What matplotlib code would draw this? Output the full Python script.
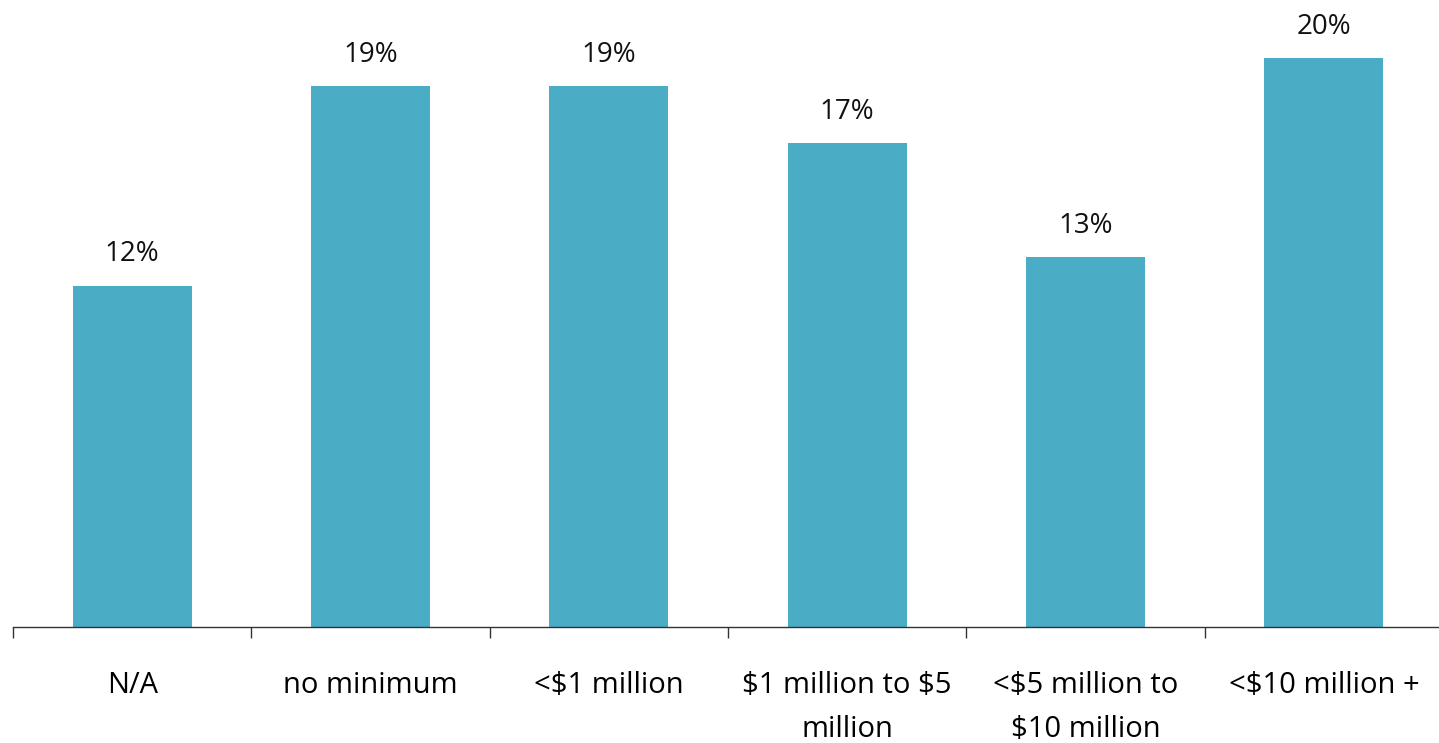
import numpy as np
import matplotlib.pyplot as plt

categories = ['N/A', 'no minimum', '<$1 million', '$1 million to $5\nmillion',
              '<$5 million to\n$10 million', '<$10 million +']
values = [12, 19, 19, 17, 13, 20]

plt.rcParams['font.family'] = ['Open Sans', 'DejaVu Sans']
plt.rcParams['text.parse_math'] = False

fig = plt.figure(figsize=(14.39, 7.43), dpi=100)
ax = fig.add_axes([13 / 1439, (743 - 627) / 743, 1430 / 1439, 627 / 743])

x = np.arange(len(categories))
bars = ax.bar(x, values, width=0.5, color='#4BACC6', zorder=2)

for xi, v in zip(x, values):
    ax.annotate('%d%%' % v, (xi, v), xytext=(0, 12.5), textcoords='offset points',
                ha='center', va='bottom', fontsize=20, color='#111111')

ax.set_xlim(-0.5, len(categories) - 0.5)
ax.set_ylim(0, 22.04)

# boundary ticks between categories, labels centered on the bars
ax.set_xticks(np.arange(-0.5, len(categories), 1.0))
ax.set_xticklabels([])
ax.set_xticks(x, minor=True)
ax.set_xticklabels(categories, minor=True, fontsize=21, linespacing=1.68, va='top')
ax.tick_params(axis='x', which='major', length=8, width=1, color='#333333')
ax.tick_params(axis='x', which='minor', length=0, pad=32)

ax.set_yticks([])
for s in ['top', 'right', 'left']:
    ax.spines[s].set_visible(False)
ax.spines['bottom'].set_color('#333333')
ax.spines['bottom'].set_linewidth(1)

fig.savefig('out.png', dpi=100)
